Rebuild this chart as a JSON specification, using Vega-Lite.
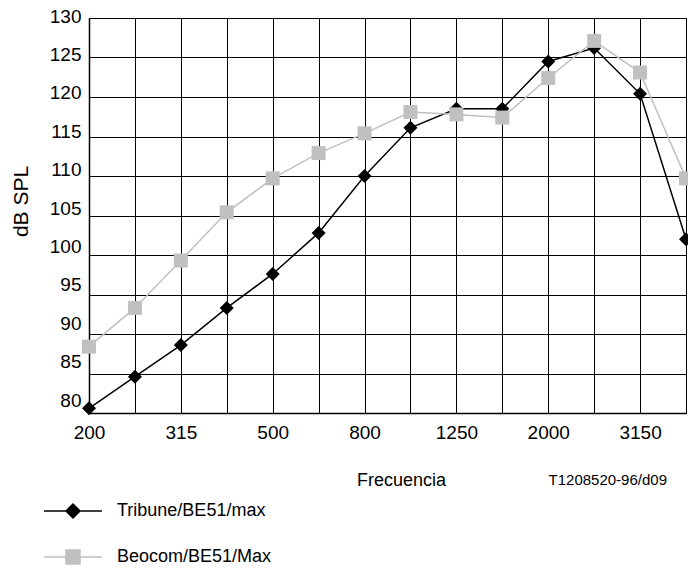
{
  "$schema": "https://vega.github.io/schema/vega-lite/v6.json",
  "autosize": "none",
  "padding": {"left": 89, "top": 18, "right": 2, "bottom": 156},
  "width": 597,
  "height": 395,
  "background": "white",
  "config": {
    "font": "Liberation Sans",
    "view": {"stroke": "black", "strokeWidth": 1}
  },
  "title": {
    "text": "T1208520-96/d09",
    "orient": "bottom",
    "anchor": "end",
    "frame": "group",
    "baseline": "alphabetic",
    "offset": 72,
    "dx": -19,
    "dy": -154,
    "fontSize": 15,
    "fontWeight": "normal",
    "color": "black"
  },
  "data": {
    "values": [
      {"f": "200", "serie": "Tribune/BE51/max", "db": 80.6},
      {"f": "250", "serie": "Tribune/BE51/max", "db": 84.6},
      {"f": "315", "serie": "Tribune/BE51/max", "db": 88.6},
      {"f": "400", "serie": "Tribune/BE51/max", "db": 93.3},
      {"f": "500", "serie": "Tribune/BE51/max", "db": 97.6},
      {"f": "630", "serie": "Tribune/BE51/max", "db": 102.8},
      {"f": "800", "serie": "Tribune/BE51/max", "db": 110.0},
      {"f": "1000", "serie": "Tribune/BE51/max", "db": 116.1},
      {"f": "1250", "serie": "Tribune/BE51/max", "db": 118.5},
      {"f": "1600", "serie": "Tribune/BE51/max", "db": 118.5},
      {"f": "2000", "serie": "Tribune/BE51/max", "db": 124.5},
      {"f": "2500", "serie": "Tribune/BE51/max", "db": 126.2},
      {"f": "3150", "serie": "Tribune/BE51/max", "db": 120.4},
      {"f": "4000", "serie": "Tribune/BE51/max", "db": 102.0},
      {"f": "200", "serie": "Beocom/BE51/Max", "db": 88.4},
      {"f": "250", "serie": "Beocom/BE51/Max", "db": 93.3},
      {"f": "315", "serie": "Beocom/BE51/Max", "db": 99.3},
      {"f": "400", "serie": "Beocom/BE51/Max", "db": 105.4},
      {"f": "500", "serie": "Beocom/BE51/Max", "db": 109.7},
      {"f": "630", "serie": "Beocom/BE51/Max", "db": 112.9},
      {"f": "800", "serie": "Beocom/BE51/Max", "db": 115.4},
      {"f": "1000", "serie": "Beocom/BE51/Max", "db": 118.1},
      {"f": "1250", "serie": "Beocom/BE51/Max", "db": 117.8},
      {"f": "1600", "serie": "Beocom/BE51/Max", "db": 117.4},
      {"f": "2000", "serie": "Beocom/BE51/Max", "db": 122.4},
      {"f": "2500", "serie": "Beocom/BE51/Max", "db": 127.1},
      {"f": "3150", "serie": "Beocom/BE51/Max", "db": 123.1},
      {"f": "4000", "serie": "Beocom/BE51/Max", "db": 109.7}
    ]
  },
  "encoding": {
    "x": {
      "field": "f",
      "type": "ordinal",
      "sort": null,
      "scale": {"type": "point", "padding": 0},
      "axis": {
        "title": "Frecuencia",
        "titleFontSize": 18,
        "titleFontWeight": "normal",
        "titleColor": "black",
        "titleX": 312,
        "titleY": 72,
        "titleBaseline": "alphabetic",
        "labelFontSize": 19,
        "labelColor": "black",
        "labelAngle": 0,
        "labelBaseline": "top",
        "labelPadding": 10,
        "labelOverlap": false,
        "labelExpr": "indexof(['200','315','500','800','1250','2000','3150'], datum.label) >= 0 ? datum.label : ''",
        "ticks": false,
        "tickSize": 0,
        "grid": true,
        "gridColor": "black",
        "gridOpacity": 1,
        "gridWidth": 1,
        "domainColor": "black",
        "domainWidth": 1.5
      }
    },
    "y": {
      "field": "db",
      "type": "quantitative",
      "scale": {"domain": [80, 130], "nice": false, "zero": false},
      "axis": {
        "title": "dB SPL",
        "titleFontSize": 21,
        "titleFontWeight": "normal",
        "titleColor": "black",
        "titleX": -62,
        "titleY": 183,
        "titleBaseline": "alphabetic",
        "titleAlign": "center",
        "values": [80, 85, 90, 95, 100, 105, 110, 115, 120, 125, 130],
        "labelFontSize": 19,
        "labelColor": "black",
        "labelPadding": 8,
        "labelBaseline": "middle",
        "labelOverlap": false,
        "labelFlush": false,
        "labelOffset": {"expr": "-2 - (130 - datum.value) * 0.22"},
        "ticks": false,
        "tickSize": 0,
        "grid": true,
        "gridColor": "black",
        "gridOpacity": 1,
        "gridWidth": 1,
        "domainColor": "black",
        "domainWidth": 1.5
      }
    },
    "color": {
      "field": "serie",
      "type": "nominal",
      "scale": {"domain": ["Tribune/BE51/max", "Beocom/BE51/Max"], "range": ["#000000", "#c0c0c0"]},
      "legend": {
        "orient": "none",
        "legendX": -25,
        "legendY": 484,
        "title": null,
        "direction": "vertical",
        "labelFontSize": 18,
        "labelColor": "black",
        "labelOffset": 35,
        "symbolSize": 196,
        "symbolStrokeWidth": 1.5,
        "rowPadding": 26,
        "padding": 0,
        "encode": {
          "symbols": {
            "update": {
              "shape": {"signal": "datum.value === 'Tribune/BE51/max' ? 'M-4.14,0H4.14M-1,0L0,-1L1,0L0,1Z' : 'M-4.14,0H4.14M-1,-1H1V1H-1Z'"},
              "fill": {"signal": "datum.value === 'Tribune/BE51/max' ? '#000000' : '#c0c0c0'"},
              "stroke": {"signal": "datum.value === 'Tribune/BE51/max' ? '#000000' : '#c8c8c8'"},
              "strokeWidth": {"value": 1.5},
              "strokeOpacity": {"value": 1},
              "fillOpacity": {"value": 1},
              "opacity": {"value": 1}
            }
          }
        }
      }
    }
  },
  "layer": [
    {
      "mark": {"type": "line", "strokeWidth": 1.5},
      "encoding": {}
    },
    {
      "transform": [{"filter": "datum.serie === 'Tribune/BE51/max'"}],
      "mark": {"type": "point", "shape": "diamond", "filled": true, "size": 196, "opacity": 1},
      "encoding": {}
    },
    {
      "transform": [{"filter": "datum.serie === 'Beocom/BE51/Max'"}],
      "mark": {"type": "point", "shape": "square", "filled": true, "size": 196, "opacity": 1},
      "encoding": {}
    }
  ]
}
